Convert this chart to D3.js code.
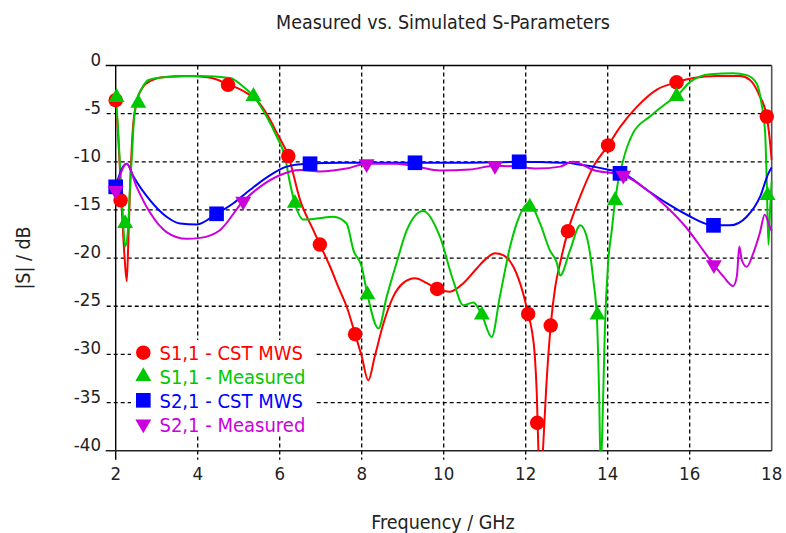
<!DOCTYPE html>
<html>
<head>
<meta charset="utf-8">
<script src="https://cdn.jsdelivr.net/npm/d3@7/dist/d3.min.js"></script>
<style>
  html, body { margin: 0; padding: 0; background: #fff; }
  svg { display: block; font-family: "DejaVu Sans Condensed", "DejaVu Sans", sans-serif; }
</style>
</head>
<body>
<svg id="chart" width="786" height="533"></svg>
<script>
// ---------- data ----------
const title = "Measured vs. Simulated S-Parameters";
const xLabel = "Frequency / GHz";
const yLabel = "|S| / dB";
const xTicks = [2, 4, 6, 8, 10, 12, 14, 16, 18];
const yTicks = [0, -5, -10, -15, -20, -25, -30, -35, -40];
const seriesNames = ["S1,1 - CST MWS", "S1,1 - Measured", "S2,1 - CST MWS", "S2,1 - Measured"];

// [GHz, dB]
const s11Sim = [[2.00,-3.6],[2.05,-6.5],[2.10,-10.5],[2.15,-15.0],[2.21,-19.5],[2.27,-22.4],[2.31,-18.0],[2.36,-11.5],[2.42,-6.5],[2.50,-4.0],[2.65,-2.3],[2.85,-1.6],[3.2,-1.2],[3.7,-1.1],[4.2,-1.2],[4.5,-1.5],[4.74,-2.0],[5.0,-2.4],[5.25,-3.0],[5.44,-3.6],[5.68,-5.0],[5.93,-7.0],[6.21,-9.4],[6.5,-14.0],[6.82,-17.1],[6.98,-18.6],[7.23,-20.9],[7.45,-23.2],[7.63,-25.0],[7.84,-27.9],[8.0,-30.2],[8.16,-32.7],[8.32,-30.2],[8.53,-26.8],[8.77,-24.0],[9.01,-22.6],[9.30,-22.1],[9.59,-22.6],[9.84,-23.2],[10.15,-23.5],[10.48,-22.6],[10.80,-21.1],[11.05,-20.0],[11.25,-19.5],[11.45,-19.7],[11.70,-20.9],[11.94,-23.7],[12.06,-25.8],[12.15,-27.5],[12.22,-30.0],[12.27,-34.0],[12.31,-40.0],[12.36,-46.0],[12.42,-40.0],[12.50,-33.5],[12.61,-27.0],[12.72,-23.0],[12.84,-20.5],[13.03,-17.2],[13.33,-13.6],[13.65,-10.5],[14.01,-8.3],[14.30,-6.4],[14.71,-4.3],[15.2,-2.5],[15.68,-1.75],[16.09,-1.3],[16.66,-1.1],[17.23,-1.1],[17.47,-1.5],[17.71,-3.2],[17.88,-5.3],[17.96,-8.0],[18.0,-9.8]];
const s11Meas = [[2.00,-3.3],[2.05,-6.0],[2.10,-10.0],[2.16,-14.5],[2.23,-18.8],[2.30,-17.0],[2.35,-12.5],[2.39,-9.8],[2.44,-6.0],[2.52,-3.6],[2.65,-2.3],[2.8,-1.5],[3.24,-1.2],[4.06,-1.1],[4.79,-1.3],[5.11,-2.2],[5.36,-3.2],[5.68,-5.3],[5.93,-7.4],[6.13,-9.5],[6.25,-12.2],[6.37,-14.3],[6.58,-16.0],[6.9,-15.9],[7.31,-15.7],[7.63,-16.4],[7.8,-19.2],[8.0,-20.9],[8.14,-23.8],[8.41,-27.3],[8.61,-24.0],[8.85,-20.5],[9.1,-17.1],[9.5,-15.1],[9.91,-17.8],[10.23,-22.3],[10.48,-24.9],[10.72,-24.6],[10.93,-25.9],[11.17,-28.2],[11.37,-24.0],[11.62,-18.8],[11.78,-16.4],[12.08,-14.3],[12.35,-16.4],[12.59,-19.2],[12.76,-20.5],[12.84,-21.8],[13.08,-19.2],[13.33,-16.6],[13.49,-17.8],[13.65,-22.3],[13.74,-26.5],[13.79,-34.0],[13.83,-42.0],[13.88,-36.0],[13.93,-27.5],[14.01,-20.5],[14.10,-17.1],[14.18,-14.0],[14.38,-9.8],[14.62,-7.0],[15.03,-5.3],[15.44,-3.9],[15.68,-3.2],[16.01,-1.7],[16.5,-0.9],[17.06,-0.8],[17.39,-1.0],[17.63,-1.85],[17.75,-3.9],[17.84,-7.0],[17.88,-12.2],[17.92,-18.6],[17.96,-15.0],[18.0,-12.0]];
const s21Sim = [[2.0,-12.6],[2.08,-11.5],[2.18,-10.5],[2.27,-10.2],[2.43,-11.5],[2.84,-14.0],[3.24,-15.7],[3.57,-16.4],[3.98,-16.5],[4.46,-15.4],[4.87,-14.3],[5.28,-12.9],[5.76,-11.4],[6.17,-10.5],[6.66,-10.2],[7.5,-10.1],[8.5,-10.1],[9.3,-10.1],[10.5,-10.1],[11.84,-10.0],[12.5,-10.05],[13.0,-10.1],[13.33,-10.3],[13.65,-10.5],[14.05,-10.85],[14.38,-11.2],[14.95,-12.9],[15.44,-14.3],[15.93,-15.5],[16.58,-16.6],[16.98,-16.6],[17.39,-15.7],[17.72,-13.6],[17.92,-11.2],[18.0,-10.6]];
const s21Meas = [[2.0,-13.0],[2.08,-11.8],[2.18,-10.6],[2.27,-10.2],[2.51,-12.6],[2.84,-15.3],[3.24,-17.3],[3.73,-18.0],[4.06,-17.9],[4.54,-17.1],[5.11,-14.1],[5.52,-12.6],[6.0,-11.4],[6.5,-10.85],[6.98,-11.0],[7.3,-10.9],[7.63,-10.7],[8.12,-10.2],[8.85,-10.2],[9.34,-10.5],[9.91,-10.9],[10.64,-10.8],[11.25,-10.4],[11.78,-10.5],[12.27,-10.7],[12.84,-10.5],[13.0,-10.2],[13.16,-10.0],[13.33,-10.2],[13.65,-10.85],[14.14,-11.2],[14.38,-11.4],[14.95,-12.9],[15.44,-14.7],[15.93,-16.9],[16.33,-19.2],[16.59,-20.7],[16.82,-21.9],[17.06,-22.9],[17.15,-21.9],[17.21,-18.8],[17.27,-20.2],[17.39,-20.9],[17.55,-19.5],[17.71,-17.4],[17.83,-15.5],[17.95,-16.7],[18.0,-17.2]];

// marker positions
const s11SimMarks = [[2.0,-3.6],[2.12,-14.0],[4.74,-2.0],[6.21,-9.4],[6.98,-18.6],[7.84,-27.9],[9.84,-23.2],[12.06,-25.8],[12.28,-37.1],[12.61,-27.0],[13.03,-17.2],[14.01,-8.3],[15.68,-1.75],[17.88,-5.3]];
const s11MeasMarks = [[2.02,-3.3],[2.23,-16.4],[2.55,-3.9],[5.36,-3.2],[6.37,-14.3],[8.14,-23.8],[10.93,-25.9],[12.1,-14.7],[13.75,-25.9],[14.18,-14.0],[15.68,-3.2],[17.9,-13.5]];
const s21SimMarks = [[2.0,-12.6],[4.46,-15.4],[6.74,-10.2],[9.30,-10.1],[11.84,-10.0],[14.3,-11.2],[16.58,-16.6]];
const s21MeasMarks = [[2.0,-13.0],[5.11,-14.1],[8.12,-10.2],[11.25,-10.4],[14.38,-11.4],[16.59,-20.7]];

// ---------- drawing ----------
const colors = ["#ff0000", "#00c800", "#0000ff", "#cc00dd"];
const symbols = ["circle", "up", "square", "down"];
const seriesLines = [s11Sim, s11Meas, s21Sim, s21Meas];
const seriesMarks = [s11SimMarks, s11MeasMarks, s21SimMarks, s21MeasMarks];

const svg = d3.select("#chart");
const L = 115.7, R = 771.7, T = 65.5, B = 450.7;
const x = d3.scaleLinear().domain([2, 18]).range([L, R]);
const y = d3.scaleLinear().domain([0, -40]).range([T, B]);

svg.append("rect").attr("width", 786).attr("height", 533).attr("fill", "#fff");

// grid
const grid = svg.append("g").attr("stroke", "#000").attr("stroke-width", 1.3).attr("stroke-dasharray", "4,3");
xTicks.slice(1, -1).forEach(t => {
  grid.append("line").attr("x1", x(t)).attr("x2", x(t)).attr("y1", T).attr("y2", B + 9);
});
yTicks.slice(1, -1).forEach(t => {
  grid.append("line").attr("x1", L - 9).attr("x2", R).attr("y1", y(t)).attr("y2", y(t));
});

// frame
const frame = svg.append("g").attr("fill", "none");
frame.append("line").attr("x1", L - 10).attr("x2", R).attr("y1", T).attr("y2", T).attr("stroke", "#000").attr("stroke-width", 1.4);
frame.append("line").attr("x1", R).attr("x2", R).attr("y1", T).attr("y2", B).attr("stroke", "#555").attr("stroke-width", 1.6);
frame.append("line").attr("x1", L).attr("x2", L).attr("y1", T).attr("y2", B + 9).attr("stroke", "#000").attr("stroke-width", 1.4);
frame.append("line").attr("x1", L - 10).attr("x2", R).attr("y1", B).attr("y2", B).attr("stroke", "#222").attr("stroke-width", 1.6);

// tick labels
const tickFont = 18.5;
svg.append("g").selectAll("text").data(yTicks).join("text")
  .attr("x", 101).attr("y", d => y(d)).attr("text-anchor", "end")
  .attr("font-size", tickFont).attr("fill", "#222").text(d => d);
svg.append("g").selectAll("text").data(xTicks).join("text")
  .attr("x", d => x(d)).attr("y", 480).attr("text-anchor", "middle")
  .attr("font-size", tickFont).attr("fill", "#222").text(d => d);

// titles
svg.append("text").attr("x", 443).attr("y", 29).attr("text-anchor", "middle")
  .attr("font-size", 19.5).attr("fill", "#222").text(title);
svg.append("text").attr("x", 443).attr("y", 529).attr("text-anchor", "middle")
  .attr("font-size", 19.5).attr("fill", "#222").text(xLabel);
svg.append("text").attr("transform", "translate(30,258) rotate(-90)").attr("text-anchor", "middle")
  .attr("font-size", 19.5).attr("fill", "#222").text(yLabel);

// clip
svg.append("clipPath").attr("id", "plotclip").append("rect")
  .attr("x", L).attr("y", T).attr("width", R - L + 1).attr("height", B - T);

const line = d3.line().x(d => x(d[0])).y(d => y(d[1])).curve(d3.curveMonotoneX);
const linesG = svg.append("g").attr("clip-path", "url(#plotclip)");
seriesLines.forEach((s, i) => {
  linesG.append("path").datum(s).attr("d", line).attr("fill", "none")
    .attr("stroke", colors[i]).attr("stroke-width", 2).attr("stroke-linejoin", "round");
});

function symbolPath(kind) {
  if (kind === "circle") return d3.symbol(d3.symbolCircle, 165)();
  if (kind === "square") return d3.symbol(d3.symbolSquare, 215)();
  return d3.symbol(d3.symbolTriangle, 110)();
}
function drawMark(g, kind, cx, cy, color) {
  g.append("path").attr("d", symbolPath(kind))
    .attr("transform", `translate(${cx},${cy})` + (kind === "down" ? " rotate(180)" : ""))
    .attr("fill", color);
}
const marksG = svg.append("g");
seriesMarks.forEach((m, i) => {
  m.forEach(d => drawMark(marksG, symbols[i], x(d[0]), y(d[1]), colors[i]));
});

// legend
const legendG = svg.append("g");
legendG.append("rect").attr("x", 131).attr("y", 340).attr("width", 184).attr("height", 95).attr("fill", "#fff");
seriesNames.forEach((name, i) => {
  const cy = 352.7 + i * 23.8;
  drawMark(legendG, symbols[i], 143.3, cy, colors[i]);
  legendG.append("text").attr("x", 159.5).attr("y", cy + 7.4).attr("font-size", 20)
    .attr("fill", colors[i]).text(name);
});
</script>
</body>
</html>
